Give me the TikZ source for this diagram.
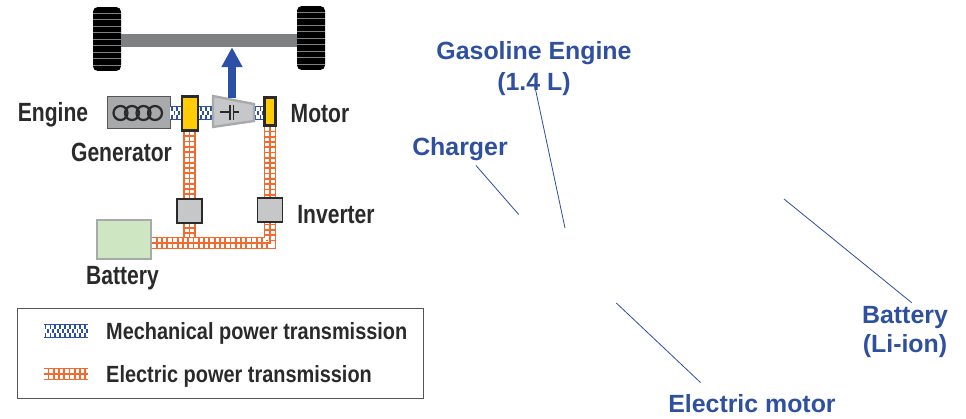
\documentclass[tikz,border=0pt]{standalone}
\usepackage{fontspec}
\setmainfont{Liberation Sans}
\newfontfamily\narrowfont[UprightFont=* Bold,FakeStretch=0.8]{Liberation Sans}
\newfontfamily\legendfont[UprightFont=* Bold,FakeStretch=0.85]{Liberation Sans}
\usetikzlibrary{arrows.meta, positioning, calc}
\definecolor{shaftblue}{HTML}{2B50A6}
\definecolor{wireorange}{HTML}{F26A2E}
\definecolor{captionblue}{HTML}{2F4F9F}
\definecolor{inkdark}{HTML}{2A2A2A}
\definecolor{axlegray}{HTML}{7F8082}
\definecolor{boxgray}{HTML}{C6C7C9}
\definecolor{enginegray}{HTML}{A8A9AB}
\definecolor{coilyellow}{HTML}{FFCC05}
\definecolor{cellgreen}{HTML}{CFE6C3}
\tikzset{
  sidelabel/.style={font=\narrowfont\fontsize{22.5pt}{24pt}\selectfont, text=inkdark, inner sep=0pt},
  legendlabel/.style={font=\legendfont\fontsize{20pt}{22pt}\selectfont, text=inkdark, inner sep=0pt, anchor=west},
  caption/.style={font=\bfseries\fontsize{21.25pt}{26.5pt}\selectfont, text=captionblue, inner sep=0pt, align=center},
  leader/.style={draw=captionblue, line width=0.7pt},
  wheelbox/.style={draw=none, fill=black, rounded corners=4pt, minimum width=23.9pt, minimum height=54.6pt, inner sep=0pt},
  coilbox/.style={draw=inkdark, fill=coilyellow, line width=2.4pt, inner sep=0pt},
  inverterbox/.style={draw=inkdark, fill=boxgray, line width=0.9pt, minimum width=21.3pt, minimum height=20.5pt, inner sep=0pt},
  mech/.style={draw=shaftblue, line width=11.9pt,
    postaction={draw=white, line width=2.6pt, dash pattern=on 2.6pt off 1.6pt},
    postaction={draw=white, line width=2.6pt, dash pattern=on 2.6pt off 1.6pt, dash phase=2.1pt, transform canvas={yshift=3.4pt}},
    postaction={draw=white, line width=2.6pt, dash pattern=on 2.6pt off 1.6pt, dash phase=2.1pt, transform canvas={yshift=-3.4pt}}},
  elec/.style={draw=wireorange, line width=10.6pt,
    postaction={draw=white, line width=7.8pt, dash pattern=on 3pt off 1.5pt},
    postaction={draw=wireorange, line width=1.4pt}},
}
\begin{document}
\begin{tikzpicture}[x=0.03cm, y=-0.03cm]
  \useasboundingbox (0,0) rectangle (966,419);

  % axle and wheels
  \node[wheelbox] (wheelL) at (107,39) {};
  \node[wheelbox] (wheelR) at (311,38) {};
  \foreach \wy in {-26,-19.5,...,26} {
    \draw[axlegray, line width=0.8pt] ($(wheelL)+(-14,\wy)$) -- ++(28,0);
    \draw[axlegray, line width=0.8pt] ($(wheelR)+(-14,\wy)$) -- ++(28,0);
  }
  \node[fill=axlegray, minimum width=150.2pt, minimum height=11.1pt, inner sep=0pt] (axle) at (209,40.5) {};

  % drive train
  \node[fill=enginegray, draw=inkdark!80, line width=0.8pt, minimum width=53.8pt, minimum height=27.3pt, inner sep=0pt] (engine) at (138.5,112) {};
  \foreach \cx in {120.5,132,143.5,155}
    \draw[inkdark, line width=1.9pt] (\cx,113) circle (7);
  \node[coilbox, minimum width=13.6pt, minimum height=29.1pt] (generator) at (190,113.5) {};
  \node[coilbox, minimum width=9.6pt, minimum height=24.1pt] (motor) at (270,111.5) {};
  \coordinate (transL) at (212,113);
  \coordinate (transR) at (254,113);
  \coordinate (transTop) at (232,98);
  \draw[mech] (engine.east |- transL) -- (generator.west |- transL);
  \draw[mech] (generator.east |- transL) -- (transL);
  \draw[mech] (transR) -- (motor.west |- transR);
  \draw[draw=enginegray, fill=boxgray, line width=2pt] (213,96) -- (254,104) -- (254,121) -- (213,127) -- cycle;
  \draw[inkdark, line width=1.1pt] (220,112) -- (230,112) (230,105) -- (230,120)
    (233.5,105) -- (233.5,120) (233.5,112) -- (239,112);
  \draw[-{Triangle[width=17pt,length=17pt]}, shaftblue, line width=6pt] (transTop) -- (transTop |- axle.south);

  % power electronics
  \node[inverterbox] (invL) at (189.5,211) {};
  \node[inverterbox] (invR) at (270,210) {};
  \node[draw=enginegray, fill=cellgreen, line width=2.2pt, minimum width=46pt, minimum height=33pt, inner sep=0pt] (battery) at (124,239.5) {};
  \coordinate (busCorner) at (270,243);
  \draw[elec] (generator.south -| invL) -- (invL.north);
  \draw[elec] (motor.south -| invR) -- (invR.north);
  \draw[elec] (invL.south) -- (invL |- busCorner);
  \draw[elec] (battery.east |- busCorner) -- (busCorner) -- (invR.south);
  \node[inverterbox] at (invL) {};
  \node[inverterbox] at (invR) {};

  % labels of the drive train
  \node[sidelabel] (engineLabel) at (53,115) {Engine};
  \node[sidelabel] (motorLabel) at (320,114) {Motor};
  \node[sidelabel] (generatorLabel) at (121.5,152) {Generator};
  \node[sidelabel] (inverterLabel) at (336,215) {Inverter};
  \node[sidelabel] (batteryLabel) at (122.5,278) {Battery};

  % legend
  \node[draw=inkdark!80, line width=0.8pt, minimum width=346.5pt, minimum height=76.8pt, inner sep=0pt] (legend) at (220,353) {};
  \coordinate (mechA) at (44,331);
  \coordinate (mechB) at (88,331);
  \coordinate (elecA) at (44,374);
  \coordinate (elecB) at (88,374);
  \draw[mech] (mechA) -- (mechB);
  \draw[elec] (elecA) -- (elecB);
  \node[legendlabel] (mechText) at (106,333) {Mechanical power transmission};
  \node[legendlabel] (elecText) at (106,376) {Electric power transmission};

  % captions with their leader lines
  \node[caption] (gasoline) at (534,69) {Gasoline Engine\\(1.4 L)};
  \node[caption] (charger) at (460,149) {Charger};
  \node[caption] (liion) at (905,332) {Battery\\[-2.5pt](Li-ion)};
  \node[caption] (emotor) at (752,404) {Electric motor};
  \coordinate (gasolineEnd) at (565,228);
  \coordinate (chargerEnd) at (518.7,214.5);
  \coordinate (liionEnd) at (784,199);
  \coordinate (emotorEnd) at (616.3,303);
  \draw[leader] (535,87) -- (gasolineEnd);
  \draw[leader] (476,165.5) -- (chargerEnd);
  \draw[leader] (911.7,302.7) -- (liionEnd);
  \draw[leader] (700.5,382.5) -- (emotorEnd);
\end{tikzpicture}
\end{document}
